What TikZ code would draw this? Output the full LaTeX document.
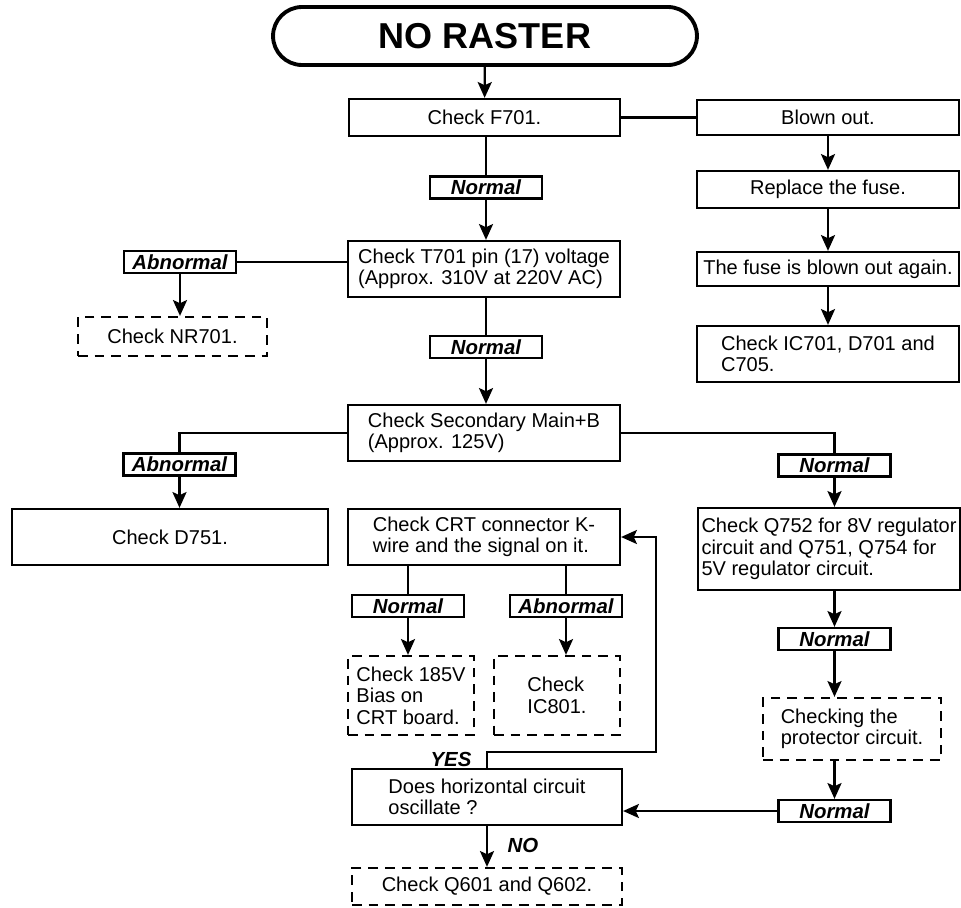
\documentclass[tikz,border=0pt]{standalone}
\usepackage{fontspec}
\setmainfont{Liberation Sans}
\usepackage{tikz}
\usetikzlibrary{shapes,arrows.meta,positioning}

\begin{document}
\begin{tikzpicture}[x=0.02cm,y=-0.02cm]
            \tikzstyle{every node} = [font=\fontsize{11.4}{12.2}\selectfont, inner xsep=2pt, inner ysep=0pt]
            \tikzstyle{ckbox} = [draw, rectangle, line width=1.3pt, align=left]
            \tikzstyle{ckdash} = [ckbox, dash pattern=on 5.5pt off 4pt]
            \tikzstyle{flagbox} = [draw, rectangle, line width=1.3pt, font=\fontsize{11.6}{12.2}\selectfont\bfseries\itshape, minimum width=2.24cm, minimum height=0.44cm]
            \tikzstyle{flagtxt} = [font=\fontsize{11.6}{12.2}\selectfont\bfseries\itshape]
            \tikzstyle{wire} = [line width=1.3pt]
            \tikzstyle{arrowto} = [-{Stealth[length=9pt,width=8pt,inset=1.8pt]}]
            \useasboundingbox (0,0) rectangle (961,907);

            \node[ckbox, rounded corners=0.58cm, line width=2.2pt, minimum width=8.48cm, minimum height=1.16cm, font=\fontsize{20.5}{24}\selectfont\bfseries](start) at (485,36){NO RASTER};
            \node[ckbox, minimum width=5.42cm, minimum height=0.74cm](f701) at (484.5,117.5){Check F701.};
            \node[ckbox, minimum width=5.24cm, minimum height=0.70cm](blown) at (828,117.5){Blown out.};
            \node[ckbox, minimum width=5.24cm, minimum height=0.74cm](fuse) at (828,189.5){Replace the fuse.};
            \node[ckbox, minimum width=5.24cm, minimum height=0.68cm](again) at (828,269){The fuse is blown out again.};
            \node[ckbox, minimum width=5.24cm, minimum height=1.12cm](ic701) at (828,354){Check IC701, D701 and\\C705.};
            \node[flagbox](n1) at (486,187.5){Normal};
            \node[ckbox, minimum width=5.44cm, minimum height=1.12cm](t701) at (484,269){Check T701 pin (17) voltage\\(Approx. 310V at 220V AC)};
            \node[flagbox](ab1) at (180,262){Abnormal};
            \node[ckdash, minimum width=3.78cm, minimum height=0.78cm](nr701) at (172.5,336.5){Check NR701.};
            \node[flagbox](n2) at (486,347){Normal};
            \node[ckbox, minimum width=5.44cm, minimum height=1.12cm](sec) at (484,433){Check Secondary Main+B\\(Approx. 125V)};
            \node[flagbox](ab2) at (179.5,464.5){Abnormal};
            \node[ckbox, minimum width=6.32cm, minimum height=1.12cm](d751) at (170,537){Check D751.};
            \node[flagbox](n3) at (834.5,465.5){Normal};
            \node[ckbox, minimum width=5.2cm, minimum height=1.64cm](q752) at (829,549){Check Q752 for 8V regulator\\circuit and Q751, Q754 for\\5V regulator circuit.};
            \node[ckbox, minimum width=5.44cm, minimum height=1.12cm](crt) at (484,537){Check CRT connector K-\\wire and the signal on it.};
            \node[flagbox](n4) at (408,606){Normal};
            \node[flagbox](ab3) at (566,606){Abnormal};
            \node[ckdash, minimum width=2.52cm, minimum height=1.58cm](bias) at (411,695.5){Check 185V\\Bias on\\CRT board.};
            \node[ckdash, minimum width=2.52cm, minimum height=1.58cm](ic801) at (557,695.5){Check\\IC801.};
            \node[flagbox](n5) at (834.5,639){Normal};
            \node[ckdash, minimum width=3.56cm, minimum height=1.24cm](prot) at (852,729){Checking the\\protector circuit.};
            \node[flagbox](n6) at (834.5,811){Normal};
            \node[ckbox, minimum width=5.4cm, minimum height=1.12cm](hosc) at (487,797){Does horizontal circuit\\oscillate ?};
            \node[ckdash, minimum width=5.4cm, minimum height=0.74cm](q601) at (487,886.5){Check Q601 and Q602.};
            \node[flagtxt](yes) at (451,759){YES};
            \node[flagtxt](no) at (523,845){NO};
            \coordinate (loop) at (656,752);

            \draw[wire, arrowto] (start) -- (f701);
            \draw[wire] (f701.south -| n1) -- (n1.north);
            \draw[wire, arrowto] (n1.south) -- (n1.south |- t701.north);
            \draw[wire] (f701.east) -- (blown.west);
            \draw[wire, arrowto] (blown) -- (fuse);
            \draw[wire, arrowto] (fuse) -- (again);
            \draw[wire, arrowto] (again) -- (ic701);
            \draw[wire] (ab1.east) -- (ab1.east -| t701.west);
            \draw[wire, arrowto] (ab1.south) -- (ab1.south |- nr701.north);
            \draw[wire] (t701.south -| n2) -- (n2.north);
            \draw[wire, arrowto] (n2.south) -- (n2.south |- sec.north);
            \draw[wire] (sec.west) -| (ab2.north);
            \draw[wire, arrowto] (ab2.south) -- (ab2.south |- d751.north);
            \draw[wire] (sec.east) -| (n3.north);
            \draw[wire, arrowto] (n3.south) -- (n3.south |- q752.north);
            \draw[wire, arrowto] (q752.south -| n5) -- (n5.north);
            \draw[wire, arrowto] (n5.south) -- (n5.south |- prot.north);
            \draw[wire, arrowto] (prot.south -| n6) -- (n6.north);
            \draw[wire, arrowto] (n6.west) -- (n6.west -| hosc.east);
            \draw[wire] (crt.south -| n4) -- (n4.north);
            \draw[wire, arrowto] (n4.south) -- (n4.south |- bias.north);
            \draw[wire] (crt.south -| ab3) -- (ab3.north);
            \draw[wire, arrowto] (ab3.south) -- (ab3.south |- ic801.north);
            \draw[wire, arrowto] (hosc.north) |- (loop) |- (crt.east);
            \draw[wire, arrowto] (hosc.south) -- (q601.north);
      \end{tikzpicture}
\end{document}
